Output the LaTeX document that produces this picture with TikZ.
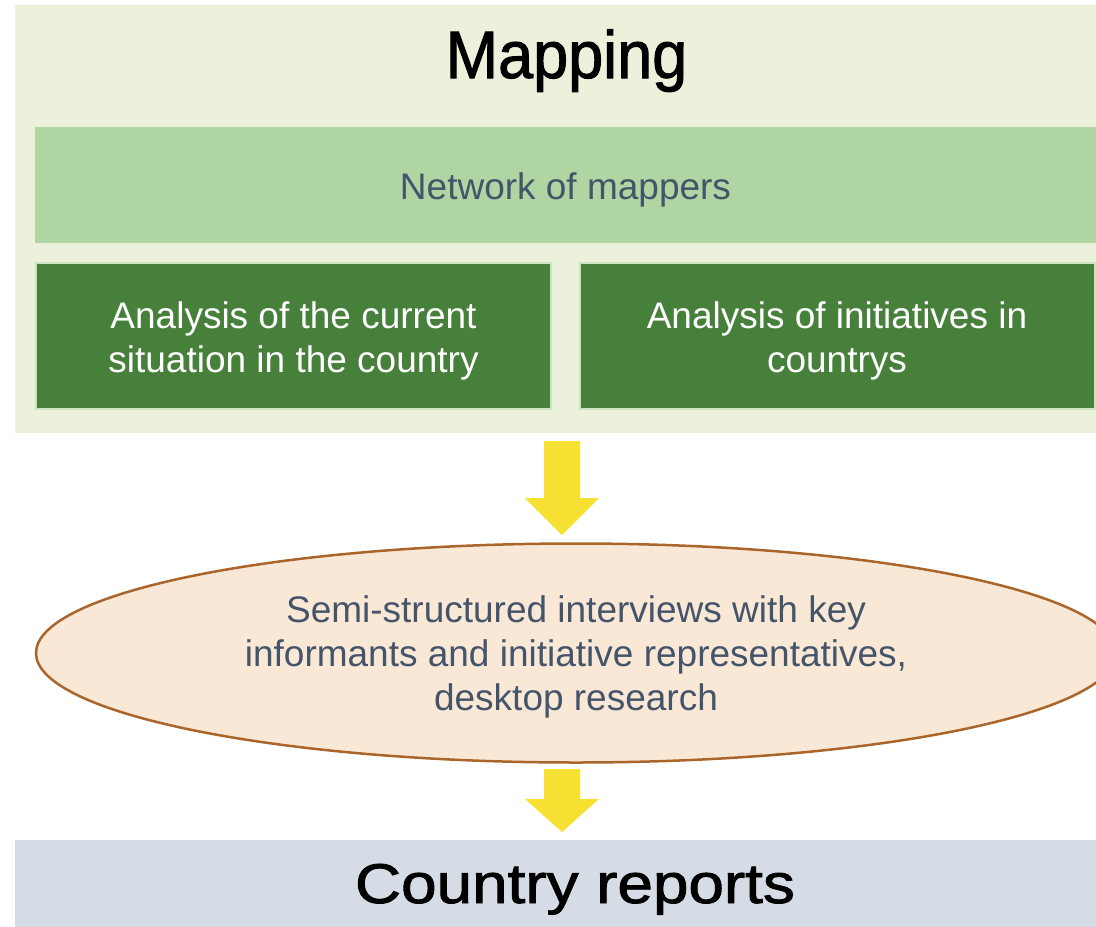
\documentclass[tikz,border=0pt]{standalone}
\usepackage{fontspec}
\setmainfont{Liberation Sans}
\newfontfamily\titlefont[FakeBold=1.5]{Liberation Sans}
\usepackage{graphicx}
\usetikzlibrary{shapes.geometric}
\definecolor{mapbg}{HTML}{EBF1DA}
\definecolor{bandbg}{HTML}{AFD6A2}
\definecolor{darkgreen}{HTML}{47803A}
\definecolor{darkedge}{HTML}{CDE4C0}
\definecolor{ellfill}{HTML}{FAE8D6}
\definecolor{elldraw}{HTML}{A9652A}
\definecolor{arrowyellow}{HTML}{F6E132}
\definecolor{repbg}{HTML}{D6DCE5}
\definecolor{slate}{HTML}{44546A}
\begin{document}
\begin{tikzpicture}[x=1pt,y=-1pt,
  panel/.style={rectangle, inner sep=0pt, outer sep=0pt},
  bodytext/.style={font=\fontsize{37}{44}\selectfont, align=center, inner sep=0pt},
  darkbox/.style={panel, fill=darkgreen, draw=darkedge, line width=2pt,
    minimum width=515pt, minimum height=146pt},
  boxtext/.style={bodytext, text=white},
  bigtitle/.style={inner sep=0pt, anchor=base, text=black},
  blockarrow/.style={fill=arrowyellow},
  ellbox/.style={ellipse, fill=ellfill, draw=elldraw, line width=2.5pt,
    inner sep=0pt, minimum width=1080pt, minimum height=219pt},
  elltext/.style={bodytext, text=slate}]
\useasboundingbox (0,0) rectangle (1096,927);
\begin{scope}
\clip (0,0) rectangle (1096,927);
% Mapping panel
\node[panel, fill=mapbg, minimum width=1089pt, minimum height=428pt] (map) at (559.5,219) {};
\node[bigtitle, font=\titlefont\fontsize{67}{80}\selectfont] (maptitle) at (566.5,78) {\scalebox{0.94}[1]{Mapping}};
\node[panel, fill=bandbg, minimum width=1069pt, minimum height=116pt] (band) at (569.5,185) {};
\node[bodytext, text=slate, anchor=base] (bandtext) at (565.5,199) {Network of mappers};
\node[darkbox] (left) at (293.5,336) {};
\node[boxtext] (lefttext) at ([yshift=-5pt]left.center) {Analysis of the current\\situation in the country};
\node[darkbox] (right) at (837,336) {};
\node[boxtext] (righttext) at ([yshift=-5pt]right.center) {Analysis of initiatives in\\countrys};
% arrow 1
\coordinate (a1) at (562,441);
\fill[blockarrow] (a1) ++(-18,0) -- ++(36,0) -- ++(0,57) -- ++(19,0) -- (562,535) -- (525,498) -- (544,498) -- cycle;
% ellipse
\node[ellbox] (ell) at (576,653) {};
\node[elltext] (elltxt) at ([yshift=-4pt]ell.center) {Semi-structured interviews with key\\informants and initiative representatives,\\desktop research};
% arrow 2
\coordinate (a2) at (562,769);
\fill[blockarrow] (a2) ++(-18,0) -- ++(36,0) -- ++(0,30) -- ++(19,0) -- (562,832) -- (525,799) -- (544,799) -- cycle;
% Country reports
\node[panel, fill=repbg, minimum width=1089pt, minimum height=90pt] (rep) at (559.5,885) {};
\node[bigtitle, font=\titlefont\fontsize{56}{67}\selectfont] (reptitle) at (575,903) {\scalebox{1.14}[1]{Country reports}};
\end{scope}
\end{tikzpicture}
\end{document}
